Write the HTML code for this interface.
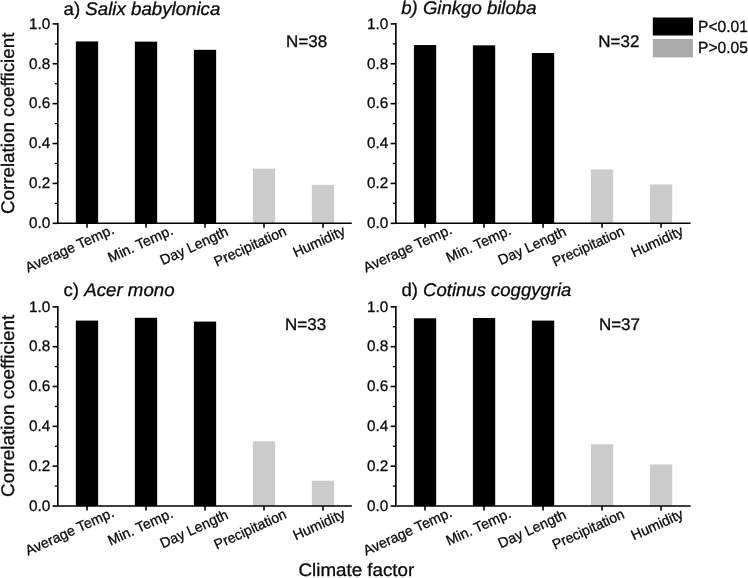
<!DOCTYPE html>
<html><head><meta charset="utf-8"><title>Correlation coefficient vs climate factor</title>
<style>html,body{margin:0;padding:0;background:#fff;}body{width:748px;height:578px;overflow:hidden;font-family:"Liberation Sans",sans-serif;}svg{display:block;will-change:transform;text-rendering:geometricPrecision}text{stroke:#0a0a0a;stroke-width:0.3px;stroke-linejoin:round}</style>
</head><body>
<svg width="748" height="578" viewBox="0 0 748 578" font-family="Liberation Sans, sans-serif" fill="#0a0a0a">
<rect width="748" height="578" fill="#fff"/>
<rect x="75.85" y="41.45" width="22.3" height="181.85" fill="#000"/>
<rect x="134.85" y="41.65" width="22.3" height="181.65" fill="#000"/>
<rect x="193.85" y="49.82" width="22.3" height="173.48" fill="#000"/>
<rect x="252.85" y="168.66" width="22.3" height="54.64" fill="#cccccc"/>
<rect x="311.85" y="184.82" width="22.3" height="38.48" fill="#cccccc"/>
<path d="M57.8 23.099999999999998 V223.3 H351.8" fill="none" stroke="#000" stroke-width="1.6"/>
<path d="M52.599999999999994 223.30 H57.8" stroke="#000" stroke-width="1.6"/>
<text transform="translate(50.3,228.05) rotate(0) scale(1.0,1)" font-size="15.3" text-anchor="end" >0.0</text>
<path d="M54.8 203.36 H57.8" stroke="#000" stroke-width="1.3"/>
<path d="M52.599999999999994 183.42 H57.8" stroke="#000" stroke-width="1.6"/>
<text transform="translate(50.3,188.17) rotate(0) scale(1.0,1)" font-size="15.3" text-anchor="end" >0.2</text>
<path d="M54.8 163.48 H57.8" stroke="#000" stroke-width="1.3"/>
<path d="M52.599999999999994 143.54 H57.8" stroke="#000" stroke-width="1.6"/>
<text transform="translate(50.3,148.29) rotate(0) scale(1.0,1)" font-size="15.3" text-anchor="end" >0.4</text>
<path d="M54.8 123.60 H57.8" stroke="#000" stroke-width="1.3"/>
<path d="M52.599999999999994 103.66 H57.8" stroke="#000" stroke-width="1.6"/>
<text transform="translate(50.3,108.41) rotate(0) scale(1.0,1)" font-size="15.3" text-anchor="end" >0.6</text>
<path d="M54.8 83.72 H57.8" stroke="#000" stroke-width="1.3"/>
<path d="M52.599999999999994 63.78 H57.8" stroke="#000" stroke-width="1.6"/>
<text transform="translate(50.3,68.53) rotate(0) scale(1.0,1)" font-size="15.3" text-anchor="end" >0.8</text>
<path d="M54.8 43.84 H57.8" stroke="#000" stroke-width="1.3"/>
<path d="M52.599999999999994 23.90 H57.8" stroke="#000" stroke-width="1.6"/>
<text transform="translate(50.3,28.65) rotate(0) scale(1.0,1)" font-size="15.3" text-anchor="end" >1.0</text>
<path d="M87.00 223.3 V227.70000000000002" stroke="#000" stroke-width="1.6"/>
<text transform="translate(115.0,233.0) rotate(-24.5) scale(1.0,1)" font-size="14.3" text-anchor="end" >Average Temp.</text>
<path d="M146.00 223.3 V227.70000000000002" stroke="#000" stroke-width="1.6"/>
<text transform="translate(174.0,233.8) rotate(-24.5) scale(1.0,1)" font-size="14.3" text-anchor="end" >Min. Temp.</text>
<path d="M205.00 223.3 V227.70000000000002" stroke="#000" stroke-width="1.6"/>
<text transform="translate(229.3,235.0) rotate(-24.5) scale(1.0,1)" font-size="14.3" text-anchor="end" >Day Length</text>
<path d="M264.00 223.3 V227.70000000000002" stroke="#000" stroke-width="1.6"/>
<text transform="translate(287.4,234.5) rotate(-24.5) scale(0.985,1)" font-size="14.3" text-anchor="end" >Precipitation</text>
<path d="M323.00 223.3 V227.70000000000002" stroke="#000" stroke-width="1.6"/>
<text transform="translate(346.3,234.4) rotate(-24.5) scale(1.0,1)" font-size="14.3" text-anchor="end" >Humidity</text>
<text transform="translate(286.1,47.35) rotate(0) scale(1.013,1)" font-size="16.8" text-anchor="start" >N=38</text>
<text transform="translate(63.5,14.50) scale(1.022,1)" font-size="18.3">a) <tspan font-style="italic">Salix babylonica</tspan></text>
<rect x="413.90" y="45.04" width="22.3" height="178.26" fill="#000"/>
<rect x="472.90" y="45.34" width="22.3" height="177.96" fill="#000"/>
<rect x="531.90" y="53.01" width="22.3" height="170.29" fill="#000"/>
<rect x="590.90" y="169.46" width="22.3" height="53.84" fill="#cccccc"/>
<rect x="649.90" y="184.42" width="22.3" height="38.88" fill="#cccccc"/>
<path d="M395.85 23.099999999999998 V223.3 H690.6500000000001" fill="none" stroke="#000" stroke-width="1.6"/>
<path d="M390.65000000000003 223.30 H395.85" stroke="#000" stroke-width="1.6"/>
<text transform="translate(388.35,228.05) rotate(0) scale(1.0,1)" font-size="15.3" text-anchor="end" >0.0</text>
<path d="M392.85 203.36 H395.85" stroke="#000" stroke-width="1.3"/>
<path d="M390.65000000000003 183.42 H395.85" stroke="#000" stroke-width="1.6"/>
<text transform="translate(388.35,188.17) rotate(0) scale(1.0,1)" font-size="15.3" text-anchor="end" >0.2</text>
<path d="M392.85 163.48 H395.85" stroke="#000" stroke-width="1.3"/>
<path d="M390.65000000000003 143.54 H395.85" stroke="#000" stroke-width="1.6"/>
<text transform="translate(388.35,148.29) rotate(0) scale(1.0,1)" font-size="15.3" text-anchor="end" >0.4</text>
<path d="M392.85 123.60 H395.85" stroke="#000" stroke-width="1.3"/>
<path d="M390.65000000000003 103.66 H395.85" stroke="#000" stroke-width="1.6"/>
<text transform="translate(388.35,108.41) rotate(0) scale(1.0,1)" font-size="15.3" text-anchor="end" >0.6</text>
<path d="M392.85 83.72 H395.85" stroke="#000" stroke-width="1.3"/>
<path d="M390.65000000000003 63.78 H395.85" stroke="#000" stroke-width="1.6"/>
<text transform="translate(388.35,68.53) rotate(0) scale(1.0,1)" font-size="15.3" text-anchor="end" >0.8</text>
<path d="M392.85 43.84 H395.85" stroke="#000" stroke-width="1.3"/>
<path d="M390.65000000000003 23.90 H395.85" stroke="#000" stroke-width="1.6"/>
<text transform="translate(388.35,28.65) rotate(0) scale(1.0,1)" font-size="15.3" text-anchor="end" >1.0</text>
<path d="M425.05 223.3 V227.70000000000002" stroke="#000" stroke-width="1.6"/>
<text transform="translate(453.05,233.0) rotate(-24.5) scale(1.0,1)" font-size="14.3" text-anchor="end" >Average Temp.</text>
<path d="M484.05 223.3 V227.70000000000002" stroke="#000" stroke-width="1.6"/>
<text transform="translate(512.05,233.8) rotate(-24.5) scale(1.0,1)" font-size="14.3" text-anchor="end" >Min. Temp.</text>
<path d="M543.05 223.3 V227.70000000000002" stroke="#000" stroke-width="1.6"/>
<text transform="translate(567.35,235.0) rotate(-24.5) scale(1.0,1)" font-size="14.3" text-anchor="end" >Day Length</text>
<path d="M602.05 223.3 V227.70000000000002" stroke="#000" stroke-width="1.6"/>
<text transform="translate(625.45,234.5) rotate(-24.5) scale(0.985,1)" font-size="14.3" text-anchor="end" >Precipitation</text>
<path d="M661.05 223.3 V227.70000000000002" stroke="#000" stroke-width="1.6"/>
<text transform="translate(684.35,234.4) rotate(-24.5) scale(1.0,1)" font-size="14.3" text-anchor="end" >Humidity</text>
<text transform="translate(598.3000000000001,47.35) rotate(0) scale(1.013,1)" font-size="16.8" text-anchor="start" >N=32</text>
<text transform="translate(401.2,14.05) scale(1.016,1)" font-size="18.3"><tspan font-style="italic">b) Ginkgo biloba</tspan></text>
<rect x="75.85" y="320.59" width="22.3" height="185.41" fill="#000"/>
<rect x="134.85" y="317.80" width="22.3" height="188.20" fill="#000"/>
<rect x="193.85" y="321.59" width="22.3" height="184.41" fill="#000"/>
<rect x="252.85" y="441.28" width="22.3" height="64.72" fill="#cccccc"/>
<rect x="311.85" y="480.71" width="22.3" height="25.29" fill="#cccccc"/>
<path d="M57.8 306.05 V506.0 H351.8" fill="none" stroke="#000" stroke-width="1.6"/>
<path d="M52.599999999999994 506.00 H57.8" stroke="#000" stroke-width="1.6"/>
<text transform="translate(50.3,510.75) rotate(0) scale(1.0,1)" font-size="15.3" text-anchor="end" >0.0</text>
<path d="M54.8 486.08 H57.8" stroke="#000" stroke-width="1.3"/>
<path d="M52.599999999999994 466.17 H57.8" stroke="#000" stroke-width="1.6"/>
<text transform="translate(50.3,470.92) rotate(0) scale(1.0,1)" font-size="15.3" text-anchor="end" >0.2</text>
<path d="M54.8 446.25 H57.8" stroke="#000" stroke-width="1.3"/>
<path d="M52.599999999999994 426.34 H57.8" stroke="#000" stroke-width="1.6"/>
<text transform="translate(50.3,431.09) rotate(0) scale(1.0,1)" font-size="15.3" text-anchor="end" >0.4</text>
<path d="M54.8 406.43 H57.8" stroke="#000" stroke-width="1.3"/>
<path d="M52.599999999999994 386.51 H57.8" stroke="#000" stroke-width="1.6"/>
<text transform="translate(50.3,391.26) rotate(0) scale(1.0,1)" font-size="15.3" text-anchor="end" >0.6</text>
<path d="M54.8 366.60 H57.8" stroke="#000" stroke-width="1.3"/>
<path d="M52.599999999999994 346.68 H57.8" stroke="#000" stroke-width="1.6"/>
<text transform="translate(50.3,351.43) rotate(0) scale(1.0,1)" font-size="15.3" text-anchor="end" >0.8</text>
<path d="M54.8 326.76 H57.8" stroke="#000" stroke-width="1.3"/>
<path d="M52.599999999999994 306.85 H57.8" stroke="#000" stroke-width="1.6"/>
<text transform="translate(50.3,311.6) rotate(0) scale(1.0,1)" font-size="15.3" text-anchor="end" >1.0</text>
<path d="M87.00 506.0 V510.4" stroke="#000" stroke-width="1.6"/>
<text transform="translate(115.0,516.1) rotate(-24.5) scale(1.0,1)" font-size="14.3" text-anchor="end" >Average Temp.</text>
<path d="M146.00 506.0 V510.4" stroke="#000" stroke-width="1.6"/>
<text transform="translate(174.0,516.9) rotate(-24.5) scale(1.0,1)" font-size="14.3" text-anchor="end" >Min. Temp.</text>
<path d="M205.00 506.0 V510.4" stroke="#000" stroke-width="1.6"/>
<text transform="translate(229.3,518.1) rotate(-24.5) scale(1.0,1)" font-size="14.3" text-anchor="end" >Day Length</text>
<path d="M264.00 506.0 V510.4" stroke="#000" stroke-width="1.6"/>
<text transform="translate(287.4,517.6) rotate(-24.5) scale(0.985,1)" font-size="14.3" text-anchor="end" >Precipitation</text>
<path d="M323.00 506.0 V510.4" stroke="#000" stroke-width="1.6"/>
<text transform="translate(346.3,517.5) rotate(-24.5) scale(1.0,1)" font-size="14.3" text-anchor="end" >Humidity</text>
<text transform="translate(285.0,329.65) rotate(0) scale(1.013,1)" font-size="16.8" text-anchor="start" >N=33</text>
<text transform="translate(63.5,296.35) scale(1.022,1)" font-size="18.3">c) <tspan font-style="italic">Acer mono</tspan></text>
<rect x="413.90" y="318.30" width="22.3" height="187.70" fill="#000"/>
<rect x="472.90" y="318.00" width="22.3" height="188.00" fill="#000"/>
<rect x="531.90" y="320.59" width="22.3" height="185.41" fill="#000"/>
<rect x="590.90" y="444.26" width="22.3" height="61.74" fill="#cccccc"/>
<rect x="649.90" y="464.48" width="22.3" height="41.52" fill="#cccccc"/>
<path d="M395.85 306.05 V506.0 H690.6500000000001" fill="none" stroke="#000" stroke-width="1.6"/>
<path d="M390.65000000000003 506.00 H395.85" stroke="#000" stroke-width="1.6"/>
<text transform="translate(388.35,510.75) rotate(0) scale(1.0,1)" font-size="15.3" text-anchor="end" >0.0</text>
<path d="M392.85 486.08 H395.85" stroke="#000" stroke-width="1.3"/>
<path d="M390.65000000000003 466.17 H395.85" stroke="#000" stroke-width="1.6"/>
<text transform="translate(388.35,470.92) rotate(0) scale(1.0,1)" font-size="15.3" text-anchor="end" >0.2</text>
<path d="M392.85 446.25 H395.85" stroke="#000" stroke-width="1.3"/>
<path d="M390.65000000000003 426.34 H395.85" stroke="#000" stroke-width="1.6"/>
<text transform="translate(388.35,431.09) rotate(0) scale(1.0,1)" font-size="15.3" text-anchor="end" >0.4</text>
<path d="M392.85 406.43 H395.85" stroke="#000" stroke-width="1.3"/>
<path d="M390.65000000000003 386.51 H395.85" stroke="#000" stroke-width="1.6"/>
<text transform="translate(388.35,391.26) rotate(0) scale(1.0,1)" font-size="15.3" text-anchor="end" >0.6</text>
<path d="M392.85 366.60 H395.85" stroke="#000" stroke-width="1.3"/>
<path d="M390.65000000000003 346.68 H395.85" stroke="#000" stroke-width="1.6"/>
<text transform="translate(388.35,351.43) rotate(0) scale(1.0,1)" font-size="15.3" text-anchor="end" >0.8</text>
<path d="M392.85 326.76 H395.85" stroke="#000" stroke-width="1.3"/>
<path d="M390.65000000000003 306.85 H395.85" stroke="#000" stroke-width="1.6"/>
<text transform="translate(388.35,311.6) rotate(0) scale(1.0,1)" font-size="15.3" text-anchor="end" >1.0</text>
<path d="M425.05 506.0 V510.4" stroke="#000" stroke-width="1.6"/>
<text transform="translate(453.05,516.1) rotate(-24.5) scale(1.0,1)" font-size="14.3" text-anchor="end" >Average Temp.</text>
<path d="M484.05 506.0 V510.4" stroke="#000" stroke-width="1.6"/>
<text transform="translate(512.05,516.9) rotate(-24.5) scale(1.0,1)" font-size="14.3" text-anchor="end" >Min. Temp.</text>
<path d="M543.05 506.0 V510.4" stroke="#000" stroke-width="1.6"/>
<text transform="translate(567.35,518.1) rotate(-24.5) scale(1.0,1)" font-size="14.3" text-anchor="end" >Day Length</text>
<path d="M602.05 506.0 V510.4" stroke="#000" stroke-width="1.6"/>
<text transform="translate(625.45,517.6) rotate(-24.5) scale(0.985,1)" font-size="14.3" text-anchor="end" >Precipitation</text>
<path d="M661.05 506.0 V510.4" stroke="#000" stroke-width="1.6"/>
<text transform="translate(684.35,517.5) rotate(-24.5) scale(1.0,1)" font-size="14.3" text-anchor="end" >Humidity</text>
<text transform="translate(598.9,329.65) rotate(0) scale(1.013,1)" font-size="16.8" text-anchor="start" >N=37</text>
<text transform="translate(401.5,296.35) scale(1.013,1)" font-size="18.3">d) <tspan font-style="italic">Cotinus coggygria</tspan></text>
<text transform="translate(14.0,214.1) rotate(-90) scale(1.0286,1)" font-size="18.3" text-anchor="start" >Correlation coefficient</text>
<text transform="translate(14.0,496.9) rotate(-90) scale(1.0326,1)" font-size="18.3" text-anchor="start" >Correlation coefficient</text>
<text transform="translate(298.5,575.9) rotate(0) scale(1.037,1)" font-size="18.1" text-anchor="start" >Climate factor</text>
<rect x="652.8" y="17.5" width="40.2" height="18" fill="#000"/>
<rect x="652.8" y="39" width="40.2" height="18.3" fill="#aaaaaa"/>
<text transform="translate(698,31.7) rotate(0) scale(0.962,1)" font-size="16.2" text-anchor="start" >P&lt;0.01</text>
<text transform="translate(698,52.9) rotate(0) scale(0.962,1)" font-size="16.2" text-anchor="start" >P&gt;0.05</text>
</svg>
</body></html>
